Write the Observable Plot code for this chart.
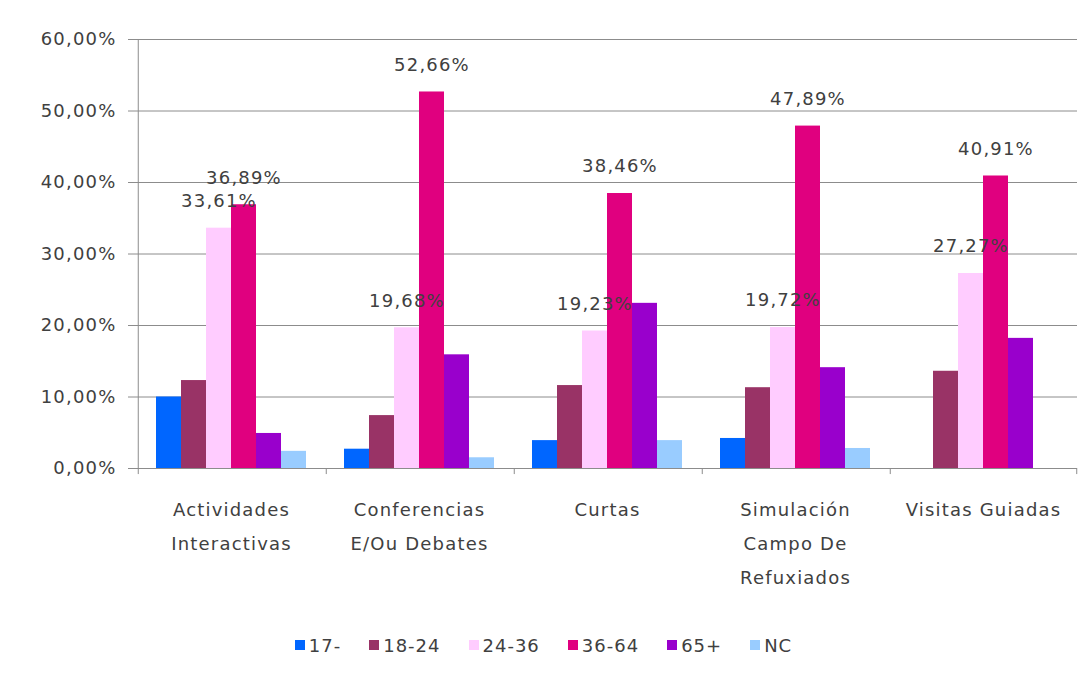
<!DOCTYPE html>
<html><head><meta charset="utf-8">
<script src="https://cdn.jsdelivr.net/npm/d3@7"></script>
<script src="https://cdn.jsdelivr.net/npm/@observablehq/plot@0.6"></script>
<style>
body{margin:0;background:#fff;font-family:"DejaVu Sans",sans-serif;}
#legend{display:flex;justify-content:center;align-items:center;gap:28px;margin-top:10px;height:20px;font-size:18px;color:#404040;letter-spacing:1px;}
#legend .item{display:flex;align-items:center;gap:4px;}
#legend .sw{width:10px;height:10px;display:inline-block;}
</style></head><body>
<div id="chart"></div>
<div id="legend"></div>
<script>
const categories = ["Actividades Interactivas","Conferencias E/Ou Debates","Curtas","Simulación Campo De Refuxiados","Visitas Guiadas"];
const categoryLabels = ["Actividades\nInteractivas","Conferencias\nE/Ou Debates","Curtas","Simulación\nCampo De\nRefuxiados","Visitas Guiadas"];
const series = ["17-","18-24","24-36","36-64","65+","NC"];
const seriesColors = ["#0066ff","#993366","#ffccff","#e0007f","#9900cc","#99ccff"];
const v17 = [10.0, 2.7, 3.9, 4.2, 0];
const v18_24 = [12.3, 7.4, 11.6, 11.3, 13.6];
const v24_36 = [33.61, 19.68, 19.23, 19.72, 27.27];
const v36_64 = [36.89, 52.66, 38.46, 47.89, 40.91];
const v65 = [4.9, 15.9, 23.1, 14.1, 18.2];
const vNC = [2.4, 1.5, 3.9, 2.8, 0];
const labeledSeries = ["24-36","36-64"];
const yTicks = [0,10,20,30,40,50,60];

const values = [v17, v18_24, v24_36, v36_64, v65, vNC];
const data = categories.flatMap((c,i)=>series.map((s,j)=>({category:c, series:s, value:values[j][i]})));
const fmt = d => d.toFixed(2).replace(".", ",") + "%";

const W = 1087, H = 625, mL = 137, mR = 10, mT = 39, mB = H - 468;
const pad = 0.715;
const facetW = (W - mL - mR) / categories.length;
const step = facetW / (series.length + 2 * pad);
const edge = step / 2 + pad * step;
const gray = "#8c8c8c";

const chart = Plot.plot({
  width: W, height: H, marginLeft: mL, marginRight: mR, marginTop: mT, marginBottom: mB,
  style: {fontFamily: "DejaVu Sans", fontSize: "18px", color: "#404040", background: "#fff", letterSpacing: "1.2px"},
  fx: {domain: categories, paddingInner: 0, paddingOuter: 0, label: null, axis: null},
  x: {domain: series, paddingInner: 0, paddingOuter: pad, axis: null},
  y: {domain: [0, 60], label: null},
  color: {domain: series, range: seriesColors},
  marks: [
    Plot.gridY(yTicks, {stroke: gray, strokeOpacity: 1}),
    Plot.axisY(yTicks, {tickFormat: fmt, tickSize: 9, tickPadding: 12, stroke: gray, label: null, fill: "#404040"}),
    Plot.ruleX(categories.map(c => ({category: c})), {fx: "category", x: () => series[0], dx: -edge, y1: -0.85, y2: 0, stroke: gray}),
    Plot.ruleX([{category: categories[0]}], {fx: "category", x: () => series[0], dx: -edge, y1: 0, y2: 60, stroke: gray}),
    Plot.ruleX([{category: categories[categories.length-1]}], {fx: "category", x: () => series[series.length-1], dx: edge, y1: -0.85, y2: 0, stroke: gray}),
    Plot.barY(data, {fx: "category", x: "series", y: "value", fill: "series"}),
    Plot.text(data.filter(d => labeledSeries.includes(d.series)), {fx: "category", x: "series", y: "value", text: d => fmt(d.value), dy: -27, fill: "#404040", fontSize: 18}),
    Plot.axisFx({anchor: "bottom", tickFormat: (d) => categoryLabels[categories.indexOf(d)], tickSize: 0, tickPadding: 23, lineHeight: 1.89, fontSize: 18, fill: "#404040", label: null})
  ]
});
document.getElementById("chart").appendChild(chart);

const legend = document.getElementById("legend");
series.forEach((s, i) => {
  const item = document.createElement("div");
  item.className = "item";
  const sw = document.createElement("span");
  sw.className = "sw";
  sw.style.background = seriesColors[i];
  const t = document.createElement("span");
  t.textContent = s;
  item.appendChild(sw); item.appendChild(t);
  legend.appendChild(item);
});
</script>
</body></html>
